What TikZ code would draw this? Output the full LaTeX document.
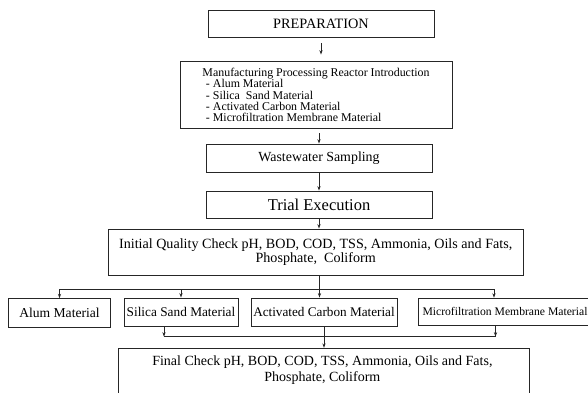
\documentclass[tikz,border=0pt]{standalone}
\usepackage{fontspec}
\setmainfont{Liberation Serif}
\usetikzlibrary{arrows.meta,calc}
\begin{document}
\begin{tikzpicture}[x=1pt,y=-1pt,
  box/.style={draw=black!85, line width=0.9pt, rectangle, inner sep=0pt, align=center},
  arr/.style={draw=black!85, line width=0.8pt, -{Stealth[length=4.5pt,width=3.2pt]}},
  ln/.style={draw=black!85, line width=0.8pt}]
\useasboundingbox (0,0) rectangle (588,392);

\node[box, minimum width=226pt, minimum height=26.5pt, font=\fontsize{14.3}{16}\selectfont] (prep) at (321,24) {PREPARATION};
\node[box, minimum width=272pt, minimum height=67.7pt, align=left, font=\fontsize{11.9}{11.4}\selectfont] (manu) at (316,94.9) {Manufacturing Processing Reactor Introduction\\\hspace*{3.5pt}- Alum Material\\\hspace*{3.5pt}- Silica~ Sand Material\\\hspace*{3.5pt}- Activated Carbon Material\\\hspace*{3.5pt}- Microfiltration Membrane Material};
\node[box, minimum width=226pt, minimum height=28.3pt, font=\fontsize{13.9}{16}\selectfont] (waste) at (319,158.2) {Wastewater Sampling};
\node[box, minimum width=226pt, minimum height=27.3pt, font=\fontsize{16.5}{18}\selectfont] (trial) at (319,204.7) {Trial Execution};
\node[box, minimum width=415.3pt, minimum height=46pt, font=\fontsize{14.1}{14}\selectfont] (init) at (315.7,252) {Initial Quality Check pH, BOD, COD, TSS, Ammonia, Oils and Fats,\\Phosphate,~ Coliform};

\node[box, minimum width=102.4pt, minimum height=29pt, font=\fontsize{13.6}{15}\selectfont] (alum) at (59.5,313.2) {Alum Material};
\node[box, minimum width=114pt, minimum height=28pt, font=\fontsize{13.3}{15}\selectfont] (silica) at (181,312) {Silica Sand Material};
\node[box, minimum width=146pt, minimum height=28pt, font=\fontsize{13.2}{15}\selectfont] (activ) at (324,312) {Activated Carbon Material};
\node[box, minimum width=174pt, minimum height=27pt, font=\fontsize{11.65}{13}\selectfont] (micro) at (505,311.7) {Microfiltration Membrane Material};

\node[box, minimum width=411.2pt, minimum height=52pt] (final) at (323.9,374.3) {};
\node[font=\fontsize{14}{15.6}\selectfont, align=center, inner sep=0pt] (finaltext) at (322.4,370) {Final Check pH, BOD, COD, TSS, Ammonia, Oils and Fats,\\Phosphate, Coliform};

% connectors
\draw[arr, shorten <=5.5pt, shorten >=6pt] (prep.south) -- (prep.south |- manu.north);
\draw[arr, shorten <=4pt] (waste.north |- manu.south) -- (waste.north);
\draw[arr] (waste.south) -- (trial.north);
\draw[arr] (trial.south) -- (trial.south |- init.north);

\coordinate (sp) at (319.5,289);
\coordinate (mt) at ([xshift=-11pt]micro.north);
\draw[arr] (init.south -| sp) -- (sp |- activ.north);
\draw[ln] (alum.north |- sp) -- (mt |- sp);
\draw[arr] (alum.north |- sp) -- (alum.north);
\draw[arr] (silica.north |- sp) -- (silica.north);
\draw[arr] (mt |- sp) -- (mt);

\coordinate (mg) at (324,336.7);
\coordinate (sb) at ([xshift=-17pt]silica.south);
\coordinate (mb) at ([xshift=-9.5pt]micro.south);
\draw[ln] (sb |- mg) -- (mb |- mg);
\draw[arr] (sb) -- (sb |- mg);
\draw[arr] (mb) -- (mb |- mg);
\draw[arr] (activ.south) -- (final.north -| activ.south);
\end{tikzpicture}
\end{document}
